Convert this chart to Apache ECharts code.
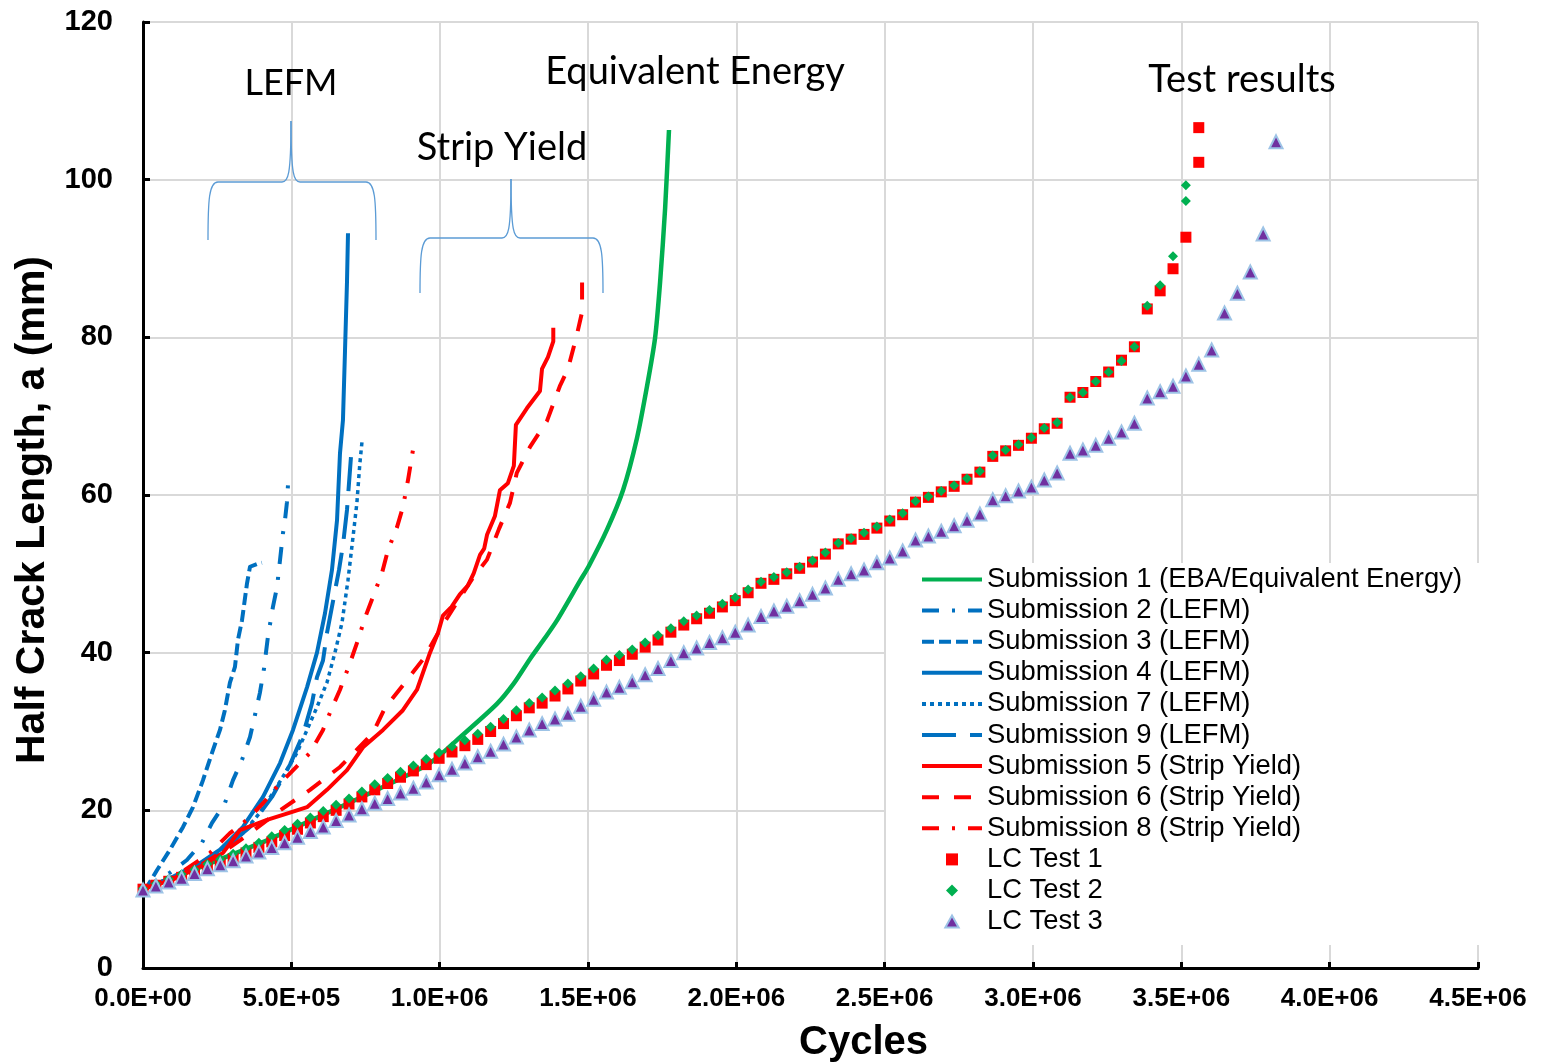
<!DOCTYPE html>
<html>
<head>
<meta charset="utf-8">
<script src="https://cdn.jsdelivr.net/npm/echarts@6/dist/echarts.min.js"></script>
<style>
html,body{margin:0;padding:0;background:#ffffff;}
#chart{width:1541px;height:1064px;}
</style>
</head>
<body>
<div id="chart"></div>
<script>
// ---------------- DATA ----------------
const xTickLabels = ['0.0E+00','5.0E+05','1.0E+06','1.5E+06','2.0E+06','2.5E+06','3.0E+06','3.5E+06','4.0E+06','4.5E+06'];
const yTickLabels = ['0','20','40','60','80','100','120'];

// Predictions: [cycles, half crack length (mm)]
const sub1 = [[0,10],[200000,12.9],[400000,15.9],[600000,19.3],[800000,22.8],[967000,26],[1078700,29.6],[1193000,33.5],[1250000,36.1],[1304500,39.2],[1350000,41.6],[1395500,44.1],[1473000,49.1],[1503000,51],[1564000,55.6],[1618000,60.6],[1665000,67.2],[1699000,73.8],[1726000,79.9],[1743000,87],[1760000,96.4],[1773000,106.3]];
const sub2 = [[0,10],[33700,10.8],[91000,12.1],[148000,13.7],[199000,15.9],[232600,18.4],[276000,20.9],[303000,23.8],[333700,26.4],[360700,29.3],[377500,32.1],[394000,34.9],[408000,38],[421000,42],[438000,45.8],[451700,48.3],[462000,51.8],[472000,55.2],[478600,56.8],[485000,59],[488800,61.3]];
const sub3 = [[0,10],[13500,10.3],[47000,12.4],[91000,15],[135000,17.9],[168500,20.4],[202000,23.8],[232600,27.3],[259500,30.2],[276000,32.7],[293000,36.2],[310000,38.2],[320000,41.6],[333700,44.1],[350600,48.8],[360700,50.9],[387600,51.3],[401000,51.4]];
const sub4 = [[0,10],[80900,11.2],[192000,13.3],[259500,15],[337000,17.9],[404500,21.7],[462000,26],[505600,30.2],[552800,35.6],[586500,40],[613500,45],[637000,50.5],[654000,56.8],[664000,65.3],[674000,69.5],[681000,78.4],[687600,87],[691000,93.2]];
const sub7 = [[0,10],[100000,11.5],[215700,13.7],[269700,15],[337000,17.1],[394000,19.7],[438000,22.2],[478600,24.7],[519000,27.3],[552800,30.2],[586500,33.1],[620000,36.2],[647000,40],[670800,43.8],[691000,49.2],[708000,54.7],[721000,59],[731000,64],[738000,66.7]];
const sub9 = [[0,10],[100000,11.5],[200000,13.3],[269700,15],[360700,17.9],[434800,21.7],[495500,25.8],[539300,29.6],[569700,33.6],[586500,36.9],[606700,39],[620200,42.5],[660700,50.5],[674200,53.7],[687600,58.1],[697800,63.2],[701000,64.8]];
const sub5 = [[0,10],[100000,11.2],[200000,13],[269700,14.6],[327000,17.5],[418000,18.8],[495500,19.7],[552800,20.4],[620000,22.6],[687600,25.1],[741600,28],[809000,30.2],[876000,32.7],[923600,35.3],[967400,40],[994400,42.5],[1011000,44.7],[1040000,45.8],[1068000,47.4],[1095000,48.5],[1115000,50.1],[1136000,52.4],[1150000,53.2],[1160000,55],[1186000,57.3],[1203000,60.6],[1230000,61.5],[1250000,63.7],[1257000,68.9],[1294000,71],[1338000,73.2],[1345000,76],[1365000,77.5],[1383000,79.5],[1383000,81.2]];
const sub6 = [[0,10],[100000,11.3],[200000,13.2],[293000,15.3],[360700,17.1],[462000,20],[563000,22.6],[664000,25.5],[775000,29.8],[815700,33],[883000,36.2],[947000,39.3],[1008000,43.4],[1112000,49.5],[1159600,51.8],[1200000,55.7],[1237000,59],[1260000,62.8],[1304500,66.1],[1361800,69.4],[1405000,73.8],[1432600,76],[1463000,80.4],[1480000,83.2],[1480000,87.3]];
const sub8 = [[0,10],[100000,11.4],[225800,14.6],[293000,17.1],[350600,18.8],[404500,20.9],[451700,23],[495500,24.7],[563000,27.3],[606700,30.2],[637000,33],[664000,35.3],[697800,38.7],[724700,41.6],[748000,44.4],[775300,47.1],[805600,50.1],[825800,53],[856000,55.9],[876400,58.5],[893300,61.9],[910000,65.7]];

// Test results: shared cycle counts and crack lengths per test
const testCycles = [0,43400,86800,130200,173600,217000,260400,303800,347200,390600,
  434000,477400,520800,564200,607600,651000,694400,737800,781200,824600,
  868000,911400,954800,998200,1041600,1085000,1128400,1171800,1215200,1258600,
  1302000,1345400,1388800,1432200,1475600,1519000,1562400,1605800,1649200,1692600,
  1736000,1779400,1822800,1866200,1909600,1953000,1996400,2039800,2083200,2126600,
  2170000,2213400,2256800,2300200,2343600,2387000,2430400,2473800,2517200,2560600,
  2604000,2647400,2690800,2734200,2777600,2821000,2864400,2907800,2951200,2994600,
  3038000,3081400,3124800,3168200,3211600,3255000,3298400,3341800,3385200,3428600,
  3472000,3515400,3558800,3602200,3645600,3689000,3732400,3775800,3819200];
const test1A = [10.0,10.5,11.0,11.5,12.1,12.7,13.3,13.9,14.6,15.3,
  16.0,16.8,17.6,18.4,19.2,20.0,20.8,21.7,22.6,23.4,
  24.2,25.0,25.8,26.6,27.4,28.2,29.0,30.0,31.0,32.0,
  33.0,33.6,34.5,35.4,36.4,37.3,38.4,39.0,39.8,40.7,
  41.6,42.6,43.5,44.3,45.0,45.8,46.6,47.6,48.8,49.3,
  50.0,50.7,51.5,52.5,53.8,54.4,55.0,55.8,56.7,57.5,
  59.1,59.7,60.4,61.1,62.0,62.9,64.9,65.6,66.3,67.2,
  68.4,69.1,72.4,73.0,74.4,75.6,77.1,78.8,83.6,85.9,
  88.7,92.7,102.2];
const test1Extra = [[3558800,106.6]];
const test2A = [10.1,10.7,11.3,11.9,12.5,13.2,13.8,14.5,15.2,15.9,
  16.7,17.5,18.3,19.1,19.9,20.7,21.5,22.4,23.3,24.1,
  24.9,25.7,26.5,27.3,28.1,28.9,29.7,30.6,31.6,32.7,
  33.6,34.3,35.2,36.1,37.0,38.0,39.1,39.7,40.4,41.3,
  42.2,43.1,44.0,44.7,45.4,46.2,47.0,48.0,49.0,49.6,
  50.2,50.9,51.7,52.7,53.9,54.5,55.2,56.0,56.9,57.7,
  59.2,59.8,60.5,61.2,62.1,63.0,65.0,65.7,66.4,67.3,
  68.5,69.2,72.4,73.0,74.4,75.6,77.0,78.8,84.0,86.6,
  90.3,97.3];
const test2Extra = [[3515400,99.3]];
const test3A = [9.9,10.4,10.9,11.4,12.0,12.6,13.1,13.6,14.2,14.7,
  15.3,15.9,16.6,17.3,17.9,18.7,19.4,20.2,20.9,21.5,
  22.2,22.8,23.6,24.5,25.2,26.0,26.8,27.5,28.4,29.3,
  30.2,31.0,31.6,32.2,33.2,34.1,35.0,35.6,36.3,37.2,
  38.0,39.0,40.0,40.6,41.3,41.9,42.6,43.5,44.6,45.3,
  45.9,46.6,47.4,48.2,49.3,50.0,50.5,51.4,52.0,52.9,
  54.3,54.8,55.4,56.1,56.8,57.6,59.4,59.9,60.5,61.0,
  61.9,62.8,65.3,65.7,66.3,67.2,68.0,69.1,72.3,73.1,
  73.8,75.1,76.6,78.4,83.1,85.6,88.3,93.1,104.8];

const seriesNames = ['Submission 1 (EBA/Equivalent Energy)','Submission 2 (LEFM)','Submission 3 (LEFM)','Submission 4 (LEFM)','Submission 7 (LEFM)','Submission 9 (LEFM)','Submission 5 (Strip Yield)','Submission 6 (Strip Yield)','Submission 8 (Strip Yield)','LC Test 1','LC Test 2','LC Test 3'];

// ---------------- CHART ----------------
const BLUE = '#0070C0', RED = '#FF0000', GREEN = '#00B050';
function zipTest(a, extra) {
  const out = a.map((v, i) => [testCycles[i], v]);
  return out.concat(extra || []);
}
function lineS(name, data, color, dash, width, smooth) {
  return {
    name: name, type: 'line', data: data, symbol: 'none', showSymbol: false,
    smooth: smooth || false, animation: false, z: 3,
    lineStyle: {color: color, width: width || 4, type: dash || 'solid', cap: 'butt', join: 'round'},
    itemStyle: {color: color}
  };
}
// curly brace built from bezier curves and lines (annotation decoration)
function brace(xl, xr, xm, yBottom, yBar, yTip) {
  const st = {stroke: '#5B9BD5', lineWidth: 1.3, fill: null};
  const r = 10;
  return [
    {type: 'bezierCurve', z: 100, shape: {x1: xl, y1: yBottom, cpx1: xl, cpy1: yBar + 18, cpx2: xl + 1, cpy2: yBar, x2: xl + r, y2: yBar}, style: st},
    {type: 'line', z: 100, shape: {x1: xl + r, y1: yBar, x2: xm - 9, y2: yBar}, style: st},
    {type: 'bezierCurve', z: 100, shape: {x1: xm - 9, y1: yBar, cpx1: xm - 3, cpy1: yBar, cpx2: xm, cpy2: yBar - 6, x2: xm, y2: yTip}, style: st},
    {type: 'bezierCurve', z: 100, shape: {x1: xm, y1: yTip, cpx1: xm, cpy1: yBar - 6, cpx2: xm + 3, cpy2: yBar, x2: xm + 9, y2: yBar}, style: st},
    {type: 'line', z: 100, shape: {x1: xm + 9, y1: yBar, x2: xr - r, y2: yBar}, style: st},
    {type: 'bezierCurve', z: 100, shape: {x1: xr - r, y1: yBar, cpx1: xr - 1, cpy1: yBar, cpx2: xr, cpy2: yBar + 18, x2: xr, y2: yBottom}, style: st}
  ];
}
function ann(text, x, y, size) {
  return {type: 'text', z: 100, x: x, y: y, style: {text: text, font: size + 'px Lato, "Open Sans", sans-serif', fill: '#000', textAlign: 'center', textVerticalAlign: 'middle'}};
}
const testIcons = ['path://M0 0L10 0L10 10L0 10Z', 'path://M5 0L10 5L5 10L0 5Z', 'path://M5 0L10 9L0 9Z'];
const legendData = seriesNames.map(function (n, i) {
  return i < 9 ? {name: n, itemStyle: {opacity: 0}} : {name: n, icon: testIcons[i - 9]};
});

const chart = echarts.init(document.getElementById('chart'), null, {renderer: 'canvas'});
const option = {
  backgroundColor: '#ffffff',
  animation: false,
  grid: {left: 143, right: 63, top: 22, bottom: 96, containLabel: false, outerBoundsMode: 'none'},
  xAxis: {
    type: 'value', min: 0, max: 4500000, interval: 500000,
    name: 'Cycles', nameLocation: 'middle', nameGap: 55,
    nameTextStyle: {fontFamily: 'Liberation Sans, Arial, sans-serif', fontWeight: 'bold', fontSize: 40, color: '#000', padding: [0, 0, 0, 106]},
    axisLine: {show: true, onZero: false, lineStyle: {color: '#000', width: 3}},
    axisTick: {show: true, inside: true, length: 6, lineStyle: {color: '#000', width: 3}},
    axisLabel: {margin: 18, color: '#000', fontFamily: 'Liberation Sans, Arial, sans-serif', fontWeight: 'bold', fontSize: 26,
      formatter: function (v) { return xTickLabels[Math.round(v / 500000)]; }},
    splitLine: {show: true, lineStyle: {color: '#D9D9D9', width: 2}}
  },
  yAxis: {
    type: 'value', min: 0, max: 120, interval: 20,
    name: 'Half Crack Length, a (mm)', nameLocation: 'middle', nameGap: 90,
    nameTextStyle: {fontFamily: 'Liberation Sans, Arial, sans-serif', fontWeight: 'bold', fontSize: 41, color: '#000', padding: [0, 30, 0, 0]},
    axisLine: {show: true, onZero: false, lineStyle: {color: '#000', width: 3}},
    axisTick: {show: true, inside: true, length: 7, lineStyle: {color: '#000', width: 3}},
    axisLabel: {margin: 30, color: '#000', fontFamily: 'Liberation Sans, Arial, sans-serif', fontWeight: 'bold', fontSize: 29,
      formatter: function (v) { return yTickLabels[Math.round(v / 20)]; }},
    splitLine: {show: true, lineStyle: {color: '#D9D9D9', width: 2}}
  },
  legend: {
    orient: 'vertical', left: 886, top: 563,
    backgroundColor: '#ffffff',
    padding: [3, 18, 10, 34],
    itemWidth: 60, itemHeight: 12, itemGap: 4.1,
    data: legendData,
    lineStyle: {width: 4},
    textStyle: {fontFamily: 'Liberation Sans, Arial, sans-serif', fontSize: 27.4, color: '#000', lineHeight: 26},
    selectedMode: false
  },
  graphic: [
    ann('LEFM', 291, 83, 36),
    ann('Strip Yield', 502, 148, 38),
    ann('Equivalent Energy', 695, 72, 38),
    ann('Test results', 1242, 80, 38)
  ].concat(brace(208, 376, 291, 240, 182, 121)).concat(brace(420, 603, 511, 293, 238, 179)),
  series: [
    lineS(seriesNames[0], sub1, GREEN, 'solid', 4.5, 0.25),
    lineS(seriesNames[1], sub2, BLUE, [17, 13, 3, 13], 4),
    lineS(seriesNames[2], sub3, BLUE, [12, 5], 4),
    lineS(seriesNames[3], sub4, BLUE, 'solid', 4),
    lineS(seriesNames[4], sub7, BLUE, [4, 4], 3.5),
    lineS(seriesNames[5], sub9, BLUE, [34, 14], 4),
    lineS(seriesNames[6], sub5, RED, 'solid', 4),
    lineS(seriesNames[7], sub6, RED, [17, 15], 4),
    lineS(seriesNames[8], sub8, RED, [17, 13, 3, 13], 4),
    {name: seriesNames[9], type: 'scatter', data: zipTest(test1A, test1Extra), symbol: 'rect', symbolSize: 11, z: 4,
      itemStyle: {color: RED, opacity: 1}},
    {name: seriesNames[10], type: 'scatter', data: zipTest(test2A, test2Extra), symbol: 'diamond', symbolSize: 10, z: 5,
      itemStyle: {color: GREEN, opacity: 1}},
    {name: seriesNames[11], type: 'scatter', data: zipTest(test3A), symbol: 'triangle', symbolSize: 13, z: 6,
      itemStyle: {color: '#7030A0', borderColor: '#9DC3E6', borderWidth: 2, opacity: 1}}
  ]
};
chart.setOption(option);
</script>
</body>
</html>
